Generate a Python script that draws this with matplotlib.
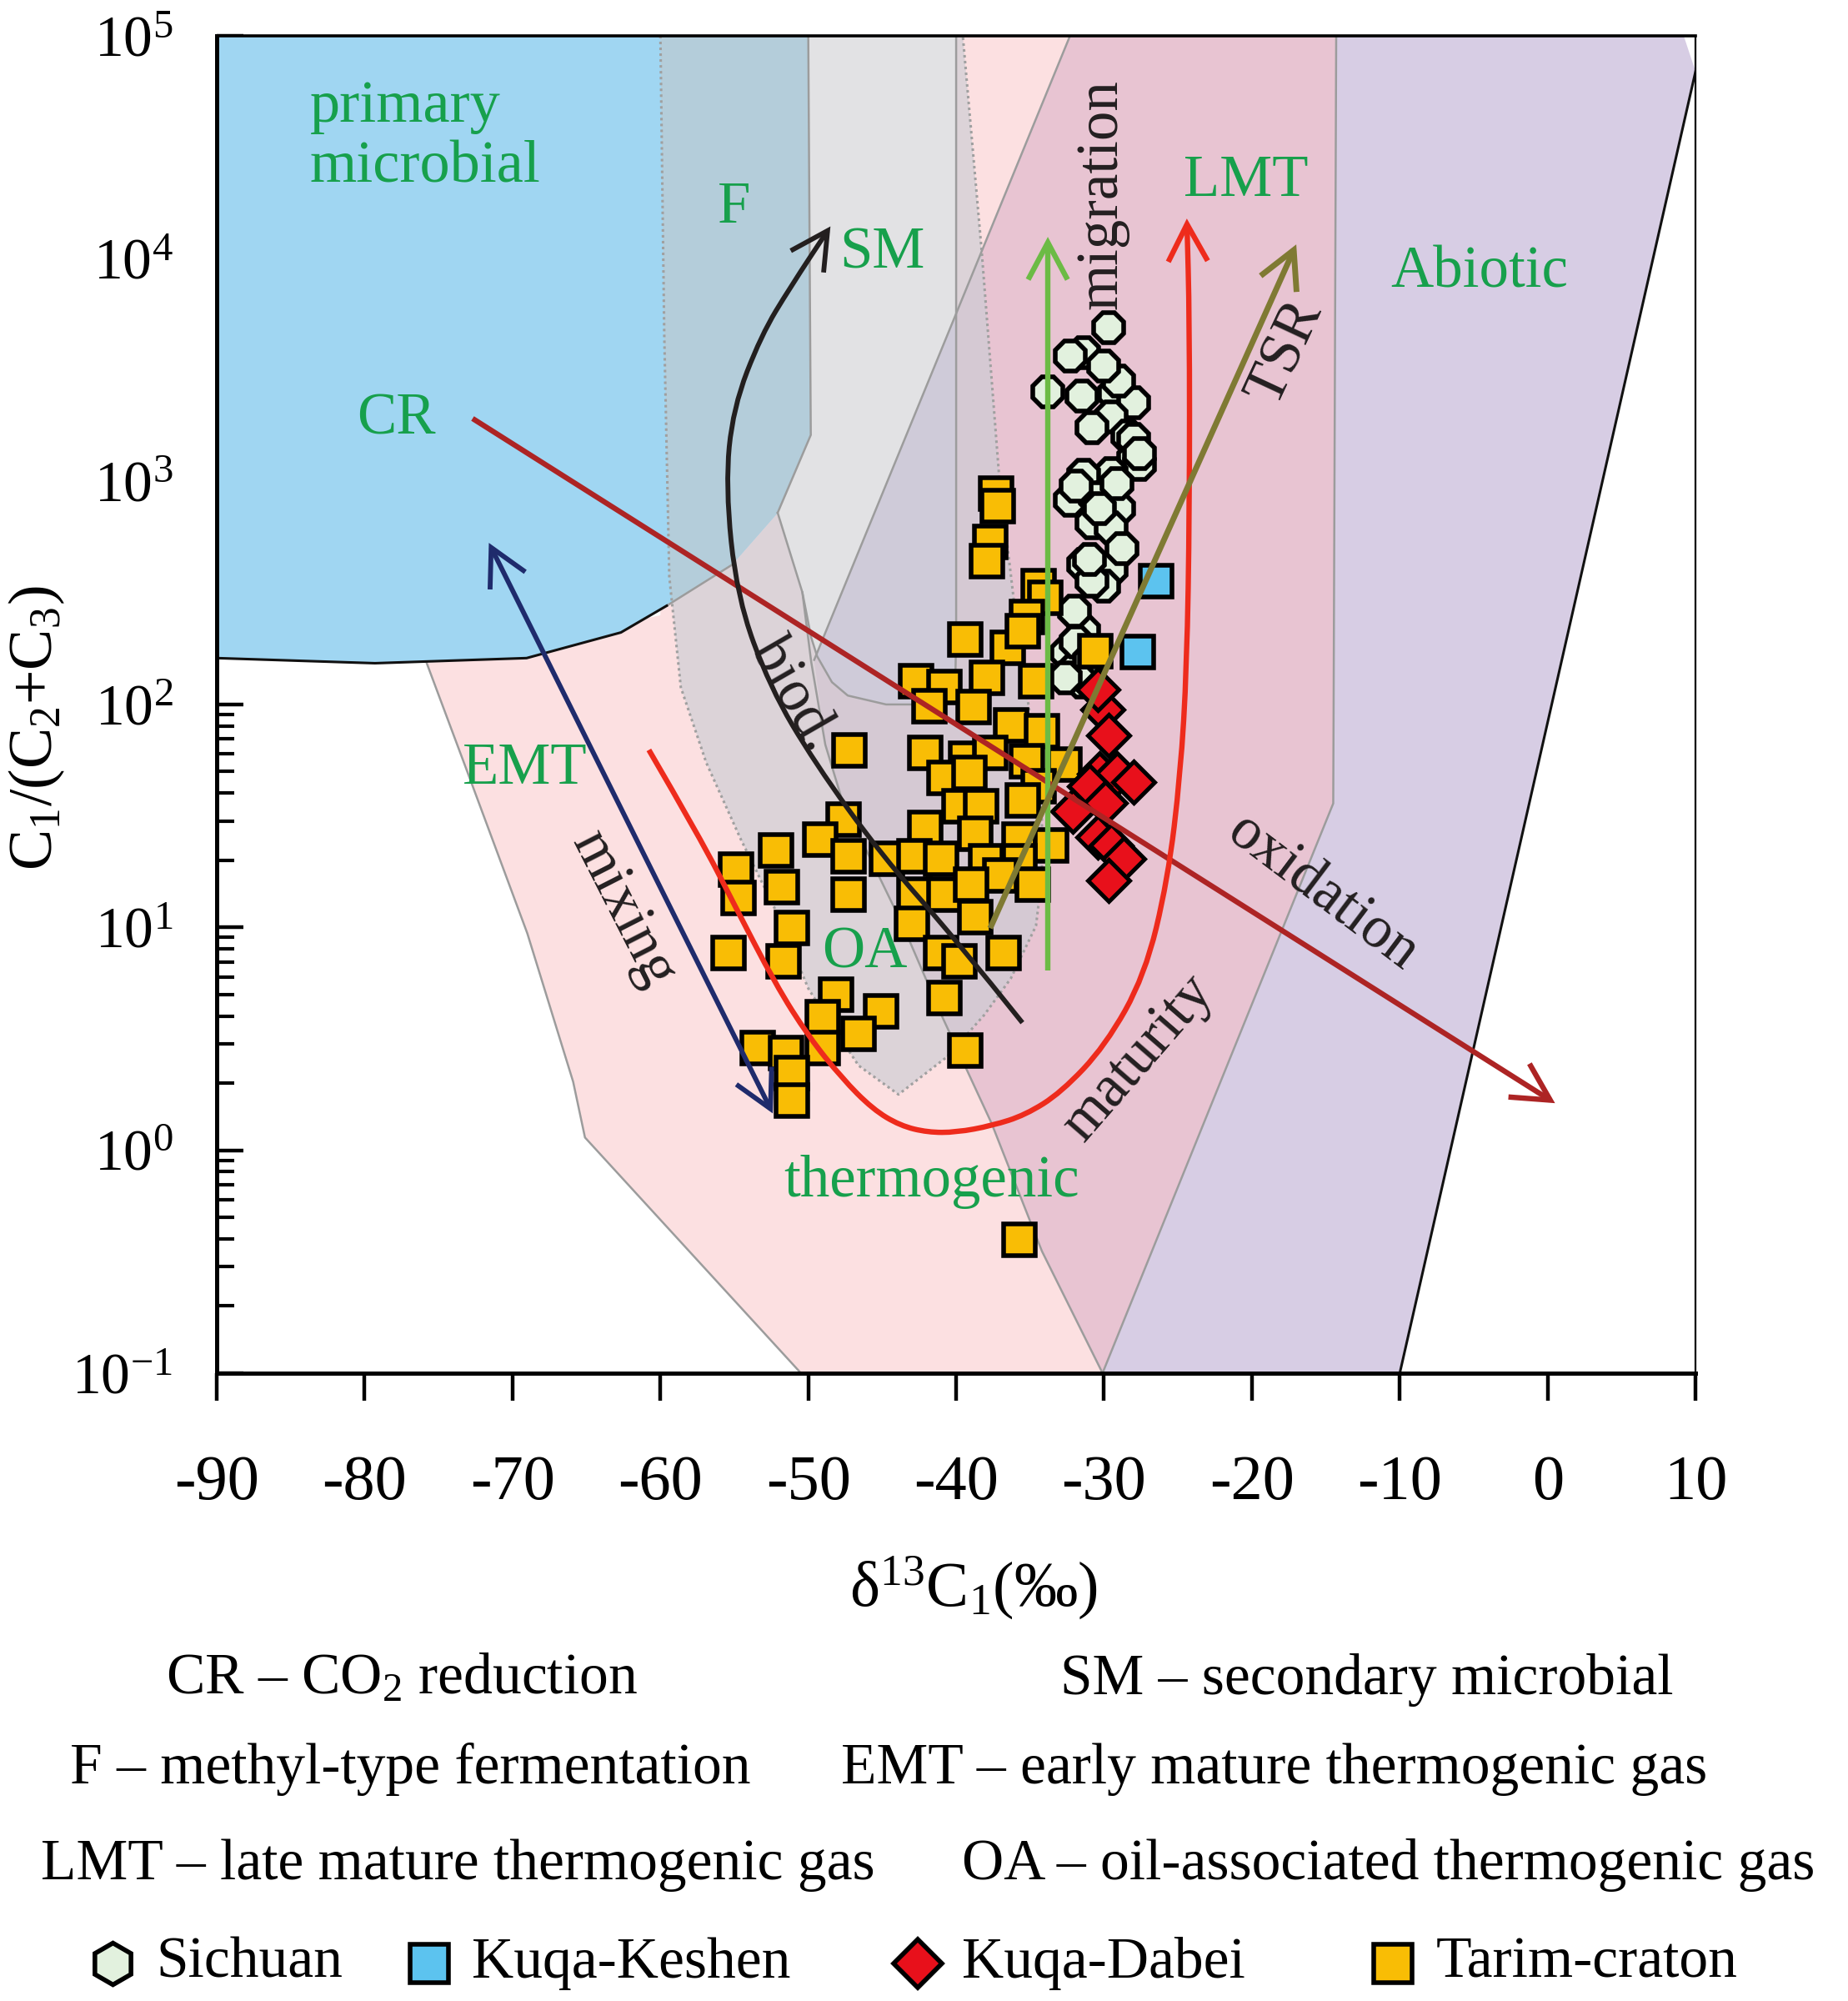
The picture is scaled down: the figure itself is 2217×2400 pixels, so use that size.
import numpy as np
import matplotlib
matplotlib.use('Agg')
import matplotlib.pyplot as plt
from matplotlib.patches import Polygon, FancyArrowPatch, ArrowStyle
from matplotlib.path import Path
from matplotlib.lines import Line2D
from matplotlib.ticker import FixedLocator, FixedFormatter, LogLocator, NullFormatter

plt.rcParams['font.family'] = ['Liberation Serif', 'DejaVu Serif']
plt.rcParams['mathtext.fontset'] = 'custom'
plt.rcParams['mathtext.rm'] = 'Liberation Serif'
plt.rcParams['mathtext.it'] = 'Liberation Serif:italic'
plt.rcParams['mathtext.bf'] = 'Liberation Serif:bold'

# ---------------- data (delta13C1 in permil, C1/(C2+C3)) ----------------
sichuan_d13c = [-29.7, -31.4, -32.3, -33.8, -31.5, -29.3, -28.0, -29.5, -30.8, -28.4,
                -28.0, -27.6, -29.5, -31.4, -32.3, -30.6, -29.0, -30.8, -29.5, -31.4,
                -29.5, -30.0, -30.8, -31.4, -32.5, -32.1, -31.9, -28.0, -27.6, -31.9,
                -29.1, -30.3, -29.0, -30.0, -28.8, -31.0, -32.0, -31.0, -31.5, -32.6]
sichuan_ratio = [4900, 3780, 3660, 2520, 2420, 2480, 2250, 1950, 1740, 1600,
                 1270, 1190, 1090, 1070, 824, 845, 757, 653, 621, 425,
                 404, 340, 357, 213, 171, 141, 191, 1550, 1340, 951,
                 977, 755, 2820, 3310, 501, 447, 263, 158, 126, 132]

keshen_d13c = [-26.5, -27.7]
keshen_ratio = [357, 172]

dabei_d13c = [-30.1, -30.4, -29.7, -30.3, -29.1, -28.0, -31.0, -32.1, -29.9, -30.4,
              -29.5, -28.7, -29.7]
dabei_ratio = [94.6, 117, 72.4, 48.8, 48.8, 44.7, 43.0, 33.1, 36.1, 25.4,
               23.3, 20.3, 16.3]

tarim_d13c = [-37.3, -37.2, -37.7, -37.9, -34.4, -34.0, -35.2, -39.4, -36.5, -35.5,
              -42.7, -40.8, -37.9, -34.6, -41.8, -38.8, -36.3, -34.2, -47.2, -42.1,
              -39.3, -37.7, -35.2, -32.7, -40.8, -39.1, -34.4, -39.8, -38.3, -35.5,
              -47.6, -42.1, -38.7, -35.7, -33.6, -52.2, -49.2, -47.3, -44.7, -42.8,
              -41.0, -38.0, -35.7, -54.9, -54.7, -51.8, -47.3, -42.8, -40.8, -43.0,
              -38.7, -51.1, -55.4, -51.7, -36.8, -41.0, -39.8, -48.1, -49.0, -45.1,
              -46.6, -49.0, -53.4, -51.5, -51.1, -51.1, -40.8, -39.4, -35.7, -37.0,
              -34.8, -39.0, -30.6]
tarim_ratio = [881, 774, 535, 439, 339, 301, 247, 195, 179, 213,
               127, 120, 132, 127, 98, 97.3, 80.4, 75.7, 62.1, 60.5,
               57.0, 60.5, 55.5, 53.7, 46.8, 49.2, 42.9, 34.8, 34.8, 37.1,
               30.4, 27.9, 26.2, 24.7, 23.4, 22.1, 24.7, 20.8, 20.3, 20.8,
               20.3, 19.8, 19.8, 18.1, 13.5, 15.2, 14.0, 14.0, 14.0, 10.4,
               11.1, 9.9, 7.66, 7.03, 7.66, 7.66, 7.03, 4.98, 3.94, 4.19,
               3.32, 2.87, 2.87, 2.72, 2.21, 1.67, 4.81, 2.79, 0.395, 17.1,
               15.6, 15.6, 174]

x_ticks = [-90, -80, -70, -60, -50, -40, -30, -20, -10, 0, 10]
x_tick_labels = ['-90', '-80', '-70', '-60', '-50', '-40', '-30', '-20', '-10', '0', '10']
y_ticks = [0.1, 1, 10, 100, 1e3, 1e4, 1e5]
y_tick_labels = [r'$\mathregular{10^{-1}}$', r'$\mathregular{10^{0}}$', r'$\mathregular{10^{1}}$',
                 r'$\mathregular{10^{2}}$', r'$\mathregular{10^{3}}$', r'$\mathregular{10^{4}}$',
                 r'$\mathregular{10^{5}}$']

# genetic fields: (delta13C, log10 ratio) vertices
thermo_field = [(-75.8, 2.185), (-73.0, 1.688), (-69.0, 0.973), (-65.9, 0.307), (-65.1, 0.057),
                (-50.5, -1.0), (-30.1, -1.0), (-14.5, 1.556), (-14.3, 5.0), (-60.0, 5.0), (-60.0, 2.4)]
lmt_field = [(-32.3, 5.0), (-14.3, 5.0), (-14.5, 1.556), (-30.1, -1.0), (-34.2, -0.453),
             (-37.6, 0.12), (-41.0, 0.607), (-43.6, 1.008), (-47.7, 1.568), (-48.85, 1.82),
             (-49.6, 2.2)]
abiotic_field = [(-30.1, -1.0), (-10.0, -1.0), (10.0, 4.84), (9.2, 5.0), (-14.3, 5.0), (-14.5, 1.556)]
f_field = [(-60.0, 5.0), (-59.74, 3.661), (-59.4, 2.574), (-58.62, 2.077), (-56.9, 1.739),
           (-54.57, 1.396), (-52.07, 1.058), (-50.0, 0.726), (-49.0, 0.62), (-46.6, 0.38),
           (-43.9, 0.25), (-40.6, 0.42), (-38.1, 0.607), (-36.3, 0.771), (-34.6, 1.007),
           (-34.2, 1.23), (-34.2, 1.6), (-35.8, 2.3), (-37.1, 3.03), (-38.28, 4.039), (-39.55, 5.0)]
sm_field = [(-50.0, 5.0), (-49.83, 3.209), (-52.07, 2.86), (-50.4, 2.503), (-49.8, 2.3),
            (-49.4, 2.216), (-48.4, 2.1), (-47.33, 2.04), (-44.74, 2.0), (-42.82, 2.0),
            (-40.9, 2.03), (-40.06, 2.1), (-40.0, 2.3), (-40.0, 5.0)]
microbial_field = [(-90.0, 5.0), (-50.0, 5.0), (-49.83, 3.209), (-52.07, 2.86), (-55.17, 2.626),
                   (-59.57, 2.443), (-62.67, 2.323), (-69.05, 2.208), (-79.3, 2.185), (-90.0, 2.208)]
lmt_left_line = [(-52.07, 2.86), (-50.4, 2.503), (-49.8, 2.19), (-48.85, 1.82), (-47.7, 1.568),
                 (-43.6, 1.008), (-41.0, 0.607), (-37.6, 0.12), (-34.2, -0.453), (-30.1, -1.0)]

# process arrows (delta13C, log10 ratio)
cr_arrow = [(-72.7, 3.283), (0.5, 0.211)]
mixing_arrow = [(-71.6, 2.725), (-52.4, 0.165)]
biod_curve = [(-35.52, 0.572), (-40.0, 0.944), (-45.09, 1.327), (-49.57, 1.739), (-52.59, 2.077),
              (-54.83, 2.483), (-55.6, 2.981), (-55.09, 3.33), (-53.19, 3.656), (-51.21, 3.873),
              (-48.5, 4.145)]
maturity_curve = [(-60.78, 1.796), (-57.3, 1.40), (-55.05, 1.108), (-52.23, 0.746), (-49.98, 0.510),
                  (-47.72, 0.323), (-45.64, 0.184), (-43.78, 0.110), (-41.92, 0.080), (-40.0, 0.080),
                  (-37.58, 0.110), (-35.32, 0.158), (-32.9, 0.259), (-29.91, 0.469),
                  (-27.24, 0.784), (-25.69, 1.213), (-24.83, 1.688), (-24.4, 2.168), (-24.22, 2.872),
                  (-24.22, 3.73), (-24.4, 4.18)]
migration_arrow = [(-33.8, 0.807), (-33.8, 4.098)]
tsr_arrow = [(-37.7, 0.996), (-17.0, 4.064)]


def to_xy(pts):
    a = np.array(pts, dtype=float)
    return np.column_stack([a[:, 0], 10 ** a[:, 1]])


fig = plt.figure(figsize=(22.17, 24), dpi=100)
ax = fig.add_axes([0.1173, 0.3138, 0.8002, 0.6683])
ax.set_yscale('log')
ax.set_xlim(-90, 10)
ax.set_ylim(0.1, 1e5)

T = ax.transData


def poly(pts, color, z, alpha=1.0, clip=None):
    p = Polygon(to_xy(pts), closed=True, facecolor=color, edgecolor='none', alpha=alpha,
                zorder=z, transform=T)
    ax.add_patch(p)
    if clip is not None:
        cp = Polygon(to_xy(clip), closed=True, transform=T)
        p.set_clip_path(cp)
    return p


poly(thermo_field, '#fce0e1', 1.0)
poly(lmt_field, '#e8c4d2', 1.1)
poly(abiotic_field, '#d7cde4', 1.2)
poly(f_field, '#ccccd4', 1.3, alpha=0.65)
poly(sm_field, '#e2e2e4', 1.4)
poly(lmt_field, '#cfcbd9', 1.5, clip=sm_field)
poly(microbial_field, '#a0d6f2', 1.6)
poly(f_field, '#b4cdda', 1.7, clip=microbial_field)


def line(pts, **kw):
    a = to_xy(pts)
    ax.plot(a[:, 0], a[:, 1], **kw)


grey = '#9c9c9c'
line(thermo_field[:6], color=grey, lw=1.8, zorder=2)
line(lmt_left_line, color=grey, lw=1.8, zorder=2)
line([lmt_field[-1], lmt_field[0]], color=grey, lw=1.8, zorder=2)
line([abiotic_field[0], abiotic_field[5], abiotic_field[4]], color=grey, lw=1.8, zorder=2)
line(abiotic_field[1:3], color='#111111', lw=2.2, zorder=2)
line(sm_field[3:], color=grey, lw=1.8, zorder=2)
line(microbial_field[1:4], color=grey, lw=1.8, zorder=2)
line(microbial_field[4:6], color=grey, lw=1.8, zorder=2)
line(microbial_field[5:], color='#111111', lw=2.2, zorder=2)
line(f_field, color='#a0a0a0', lw=2.2, ls=(0, (1, 1.3)), zorder=2)

# ---------------- data points ----------------
ax.plot(sichuan_d13c, sichuan_ratio, ls='none', marker='8', ms=28, mfc='#e2f1de', mec='black',
        mew=4.0, zorder=4)
ax.plot(tarim_d13c, tarim_ratio, ls='none', marker='s', ms=27, mfc='#f9bd05', mec='black',
        mew=4.0, zorder=4.1)
ax.plot(dabei_d13c, dabei_ratio, ls='none', marker='D', ms=25, mfc='#e8101b', mec='black',
        mew=3.6, zorder=4.2)
ax.plot(keshen_d13c, keshen_ratio, ls='none', marker='s', ms=27, mfc='#5cc3ef', mec='black',
        mew=4.0, zorder=4.3)


# ---------------- arrows ----------------
def smooth_path(pts):
    a = np.array(pts, dtype=float)
    verts = [a[0]]
    codes = [Path.MOVETO]
    for i in range(1, len(a) - 1):
        verts += [a[i], (a[i] + a[i + 1]) / 2]
        codes += [Path.CURVE3, Path.CURVE3]
    verts.append(a[-1])
    codes.append(Path.LINETO)
    v = np.array(verts)
    v[:, 1] = 10 ** v[:, 1]
    return Path(v, codes)


def arrow_path(pts, color, lw, style='->', smooth=False):
    if smooth:
        pth = smooth_path(pts)
    else:
        pth = Path(to_xy(pts))
    st = ArrowStyle(style, head_length=1.6, head_width=0.85)
    fa = FancyArrowPatch(path=pth, arrowstyle=st, mutation_scale=20, color=color, lw=lw,
                         transform=T, zorder=5, joinstyle='miter', capstyle='butt')
    ax.add_patch(fa)


arrow_path(cr_arrow, '#ad2424', 4.6)
arrow_path(mixing_arrow, '#1f2b6c', 4.2, style='<->')
arrow_path(biod_curve, '#231f1f', 4.2, smooth=True)
arrow_path(maturity_curve, '#ee2b1c', 4.6, smooth=True)
arrow_path(migration_arrow, '#6cbb45', 4.6)
arrow_path(tsr_arrow, '#7f7a33', 5.0)

# ---------------- labels inside ----------------
green = '#17a04c'
fs = 51


def lab(x, L, s, color=green, rot=0, ha='center', va='baseline', size=fs):
    ax.text(x, 10 ** L, s, color=color, fontsize=size, rotation=rot, ha=ha, va=va,
            rotation_mode='anchor', zorder=6)


lab(-83.69, 4.614, 'primary', ha='left', size=52)
lab(-83.69, 4.345, 'microbial', ha='left', size=52)
lab(-55.0, 4.161, 'F')
lab(-45.0, 3.959, 'SM')
lab(-77.88, 3.215, 'CR')
lab(-69.14, 1.643, 'EMT')
lab(-46.2, 0.820, 'OA')
lab(-41.69, -0.208, 'thermogenic')
lab(-20.38, 4.281, 'LMT')
lab(-4.6, 3.873, 'Abiotic')

dark = '#231f20'
lab(-30.13, 4.29, 'migration', color=dark, rot=90, va='center')
lab(-17.68, 3.581, 'TSR', color=dark, rot=65, va='center')
lab(-51.0, 2.044, 'biod.', color=dark, rot=-60, va='center')
lab(-62.55, 1.082, 'mixing', color=dark, rot=-63, va='center')
lab(-15.25, 1.153, 'oxidation', color=dark, rot=-37, va='center')
lab(-27.7, 0.413, 'maturity', color=dark, rot=49, va='center')

# ---------------- axes styling ----------------
ax.xaxis.set_major_locator(FixedLocator(x_ticks))
ax.xaxis.set_major_formatter(FixedFormatter(x_tick_labels))
ax.yaxis.set_major_locator(FixedLocator(y_ticks))
ax.yaxis.set_major_formatter(FixedFormatter(y_tick_labels))
ax.yaxis.set_minor_locator(LogLocator(base=10, subs=np.arange(2, 10)))
ax.yaxis.set_minor_formatter(NullFormatter())
ax.tick_params(axis='x', which='major', direction='out', length=24, width=3.2, pad=47,
               labelsize=55, top=False)
ax.tick_params(axis='y', which='major', direction='in', length=23, width=3.2, pad=38,
               labelsize=50, right=False)
ax.tick_params(axis='y', which='minor', direction='in', length=15, width=3.0, right=False)
for sp, w in [('left', 3.6), ('bottom', 3.6), ('top', 2.6), ('right', 1.6)]:
    ax.spines[sp].set_linewidth(w)
    ax.spines[sp].set_color('black')
    ax.spines[sp].set_zorder(7)

fig.text(44 / 2217, 1 - 873 / 2400,
         r'C$\mathregular{_1}$/(C$\mathregular{_2}$+C$\mathregular{_3}$)',
         rotation=90, ha='center', va='center', fontsize=53)
fig.text(1168 / 2217, 1 - 1904 / 2400, r'δ$\mathregular{^{13}}$C$\mathregular{_1}$(‰)',
         ha='center', va='center', fontsize=55)

# ---------------- abbreviations ----------------
notes = [(199, 2015, r'CR – CO$\mathregular{_2}$ reduction'),
         (1272, 2015, 'SM – secondary microbial'),
         (84, 2122, 'F – methyl-type fermentation'),
         (1009, 2122, 'EMT – early mature thermogenic gas'),
         (49, 2237, 'LMT – late mature thermogenic gas'),
         (1154, 2237, 'OA – oil-associated thermogenic gas')]
for x, y, s in notes:
    fig.text(x / 2217, 1 - y / 2400, s, ha='left', va='center', fontsize=50)

# ---------------- legend ----------------
legend_items = [('Sichuan', 'h', '#e2f1de', 135, 187, 36),
                ('Kuqa-Keshen', 's', '#5cc3ef', 515, 566, 33),
                ('Kuqa-Dabei', 'D', '#e8101b', 1101, 1154, 30),
                ('Tarim-craton', 's', '#f9bd05', 1671, 1723, 33)]
ly = 1 - 2355 / 2400
for name, m, c, mx, tx, ms in legend_items:
    fig.add_artist(Line2D([mx / 2217], [ly], marker=m, ms=ms, mfc=c, mec='black', mew=4.0,
                          ls='none', transform=fig.transFigure))
    fig.text(tx / 2217, ly, name, ha='left', va='center', fontsize=50)

fig.savefig('out.png', dpi=100)
